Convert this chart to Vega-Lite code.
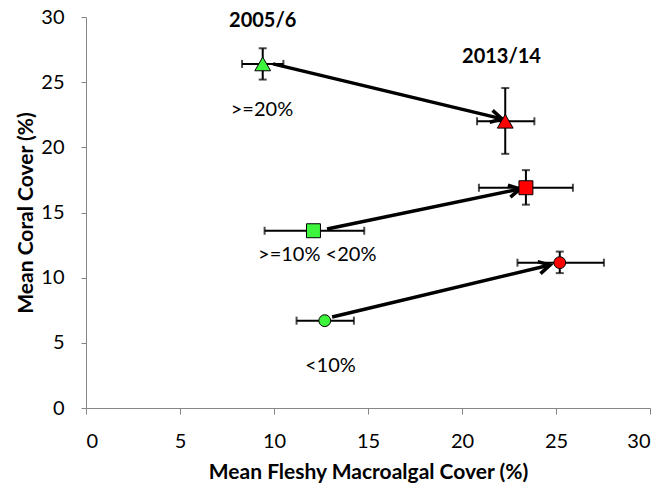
{
  "$schema": "https://vega.github.io/schema/vega-lite/v6.json",
  "autosize": {"type": "none"},
  "width": 564,
  "height": 391,
  "padding": {"left": 86, "top": 17, "right": 16, "bottom": 81},
  "background": "white",
  "config": {
    "view": {"stroke": null},
    "font": "Lato",
    "axis": {
      "grid": false,
      "domainColor": "#868686",
      "tickColor": "#868686",
      "tickSize": 6,
      "labelFont": "Lato",
      "labelFontSize": 20,
      "labelColor": "#000000",
      "titleFont": "Lato",
      "titleFontSize": 21,
      "titleFontWeight": "bold",
      "titleColor": "#000000"
    }
  },
  "datasets": {
    "pts": [
      {"grp": ">=20%", "period": "2005/6", "x": 9.4, "y": 26.4, "xlo": 8.3, "xhi": 10.5, "ylo": 25.2, "yhi": 27.6},
      {"grp": ">=20%", "period": "2013/14", "x": 22.3, "y": 22.0, "xlo": 20.8, "xhi": 23.85, "ylo": 19.5, "yhi": 24.55},
      {"grp": ">=10% <20%", "period": "2005/6", "x": 12.1, "y": 13.6, "xlo": 9.5, "xhi": 14.8, "ylo": 13.4, "yhi": 13.8},
      {"grp": ">=10% <20%", "period": "2013/14", "x": 23.4, "y": 16.9, "xlo": 20.9, "xhi": 25.9, "ylo": 15.6, "yhi": 18.25},
      {"grp": "<10%", "period": "2005/6", "x": 12.7, "y": 6.7, "xlo": 11.2, "xhi": 14.25, "ylo": 6.55, "yhi": 6.85},
      {"grp": "<10%", "period": "2013/14", "x": 25.2, "y": 11.15, "xlo": 22.95, "xhi": 27.55, "ylo": 10.35, "yhi": 12.0}
    ],
    "arrows": [
      {"grp": ">=20%", "x1": 9.95, "y1": 26.4, "x2": 22.13, "y2": 22.18},
      {"grp": ">=10% <20%", "x1": 12.82, "y1": 13.74, "x2": 23.09, "y2": 16.81},
      {"grp": "<10%", "x1": 13.09, "y1": 6.98, "x2": 24.68, "y2": 10.97}
    ],
    "labels": [
      {"t": "2005/6", "x": 9.4, "y": 29.7, "k": "period"},
      {"t": "2013/14", "x": 22.1, "y": 26.9, "k": "period"},
      {"t": ">=20%", "x": 9.36, "y": 22.9, "k": "grp"},
      {"t": ">=10% <20%", "x": 12.3, "y": 11.75, "k": "grp"},
      {"t": "<10%", "x": 13.0, "y": 3.2, "k": "grp"}
    ]
  },
  "layer": [
    {
      "data": {"name": "pts"},
      "mark": {"type": "errorbar", "ticks": {"size": 8, "thickness": 2, "color": "black"}, "rule": {"strokeWidth": 2, "color": "black"}},
      "encoding": {
        "x": {"field": "xlo", "type": "quantitative", "scale": {"domain": [0, 30]}, "title": "Mean Fleshy Macroalgal Cover (%)", "axis": {"values": [0, 5, 10, 15, 20, 25, 30], "labelPadding": 17, "titlePadding": 10}},
        "x2": {"field": "xhi"},
        "y": {"field": "y", "type": "quantitative", "scale": {"domain": [0, 30]}, "title": "Mean Coral Cover (%)", "axis": {"values": [0, 5, 10, 15, 20, 25, 30], "labelPadding": 17, "titlePadding": 4, "tickSize": 5}}
      }
    },
    {
      "data": {"name": "pts"},
      "mark": {"type": "errorbar", "ticks": {"size": 8, "thickness": 2, "color": "black"}, "rule": {"strokeWidth": 2, "color": "black"}},
      "encoding": {
        "y": {"field": "ylo", "type": "quantitative", "title": "Mean Coral Cover (%)"},
        "y2": {"field": "yhi"},
        "x": {"field": "x", "type": "quantitative", "title": "Mean Fleshy Macroalgal Cover (%)"}
      }
    },
    {
      "data": {"name": "arrows"},
      "mark": {"type": "rule", "strokeWidth": 3.5, "color": "black"},
      "encoding": {
        "x": {"field": "x1", "type": "quantitative", "title": "Mean Fleshy Macroalgal Cover (%)"},
        "y": {"field": "y1", "type": "quantitative", "title": "Mean Coral Cover (%)"},
        "x2": {"field": "x2"},
        "y2": {"field": "y2"}
      }
    },
    {
      "data": {"name": "arrows"},
      "transform": [{"filter": "datum.grp === '>=20%'"}],
      "mark": {"type": "point", "shape": "M-1,-0.55L0,0L-1,0.55", "size": 500, "filled": false, "stroke": "black", "strokeWidth": 3.5, "opacity": 1, "angle": 13.5},
      "encoding": {
        "x": {"field": "x2", "type": "quantitative", "title": "Mean Fleshy Macroalgal Cover (%)"},
        "y": {"field": "y2", "type": "quantitative", "title": "Mean Coral Cover (%)"}
      }
    },
    {
      "data": {"name": "arrows"},
      "transform": [{"filter": "datum.grp === '>=10% <20%'"}],
      "mark": {"type": "point", "shape": "M-1,-0.55L0,0L-1,0.55", "size": 500, "filled": false, "stroke": "black", "strokeWidth": 3.5, "opacity": 1, "angle": -11.7},
      "encoding": {
        "x": {"field": "x2", "type": "quantitative", "title": "Mean Fleshy Macroalgal Cover (%)"},
        "y": {"field": "y2", "type": "quantitative", "title": "Mean Coral Cover (%)"}
      }
    },
    {
      "data": {"name": "arrows"},
      "transform": [{"filter": "datum.grp === '<10%'"}],
      "mark": {"type": "point", "shape": "M-1,-0.55L0,0L-1,0.55", "size": 500, "filled": false, "stroke": "black", "strokeWidth": 3.5, "opacity": 1, "angle": -13.4},
      "encoding": {
        "x": {"field": "x2", "type": "quantitative", "title": "Mean Fleshy Macroalgal Cover (%)"},
        "y": {"field": "y2", "type": "quantitative", "title": "Mean Coral Cover (%)"}
      }
    },
    {
      "data": {"name": "pts"},
      "mark": {"type": "point", "filled": true, "stroke": "black", "strokeWidth": 1, "opacity": 1},
      "encoding": {
        "x": {"field": "x", "type": "quantitative", "title": "Mean Fleshy Macroalgal Cover (%)"},
        "y": {"field": "y", "type": "quantitative", "title": "Mean Coral Cover (%)"},
        "shape": {"field": "grp", "type": "nominal", "scale": {"domain": [">=20%", ">=10% <20%", "<10%"], "range": ["triangle-up", "square", "circle"]}, "legend": null},
        "size": {"field": "grp", "type": "nominal", "scale": {"domain": [">=20%", ">=10% <20%", "<10%"], "range": [250, 140, 130]}, "legend": null},
        "color": {"field": "period", "type": "nominal", "scale": {"domain": ["2005/6", "2013/14"], "range": ["#3CF53C", "#FF0000"]}, "legend": null}
      }
    },
    {
      "data": {"name": "labels"},
      "transform": [{"filter": "datum.k === 'grp'"}],
      "mark": {"type": "text", "font": "Lato", "fontSize": 20, "color": "#000000", "align": "center", "baseline": "middle"},
      "encoding": {
        "x": {"field": "x", "type": "quantitative", "title": "Mean Fleshy Macroalgal Cover (%)"},
        "y": {"field": "y", "type": "quantitative", "title": "Mean Coral Cover (%)"},
        "text": {"field": "t"}
      }
    },
    {
      "data": {"name": "labels"},
      "transform": [{"filter": "datum.k === 'period'"}],
      "mark": {"type": "text", "font": "Lato", "fontSize": 20, "fontWeight": "bold", "color": "#000000", "align": "center", "baseline": "middle"},
      "encoding": {
        "x": {"field": "x", "type": "quantitative", "title": "Mean Fleshy Macroalgal Cover (%)"},
        "y": {"field": "y", "type": "quantitative", "title": "Mean Coral Cover (%)"},
        "text": {"field": "t"}
      }
    }
  ]
}
